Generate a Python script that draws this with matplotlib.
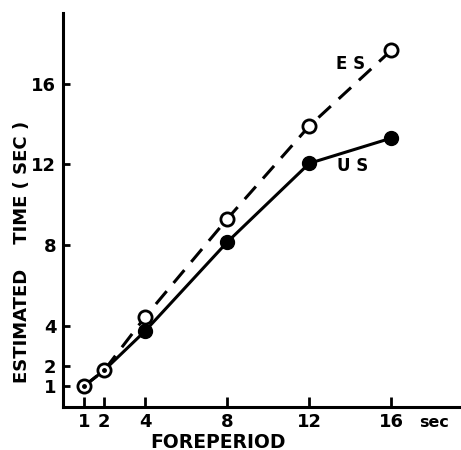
import numpy as np
import matplotlib
matplotlib.use("Agg")
from matplotlib import pyplot as plt

plt.rcParams['font.family'] = ['DejaVu Sans']
plt.rcParams['font.weight'] = 'bold'

foreperiod = [1, 2, 4, 8, 12, 16]
es_values = [1.0, 1.8, 4.45, 9.3, 13.9, 17.65]
us_values = [1.0, 1.8, 3.75, 8.15, 12.05, 13.3]
xticks = [1, 2, 4, 8, 12, 16]
yticks = [1, 2, 4, 8, 12, 16]

fig = plt.figure(figsize=(4.61, 4.5), dpi=100)
ax = fig.add_axes([63.3 / 461, 1 - 406.5 / 450, (461 - 63.3) / 461, (406.5 - 13) / 450])

fp = np.array(foreperiod)
es = np.array(es_values)
us = np.array(us_values)
shared = np.isclose(es, us)

# US: solid line, filled dots where it differs from ES
ax.plot(fp, us, color='black', lw=2.2, zorder=2)
ax.plot(fp[~shared], us[~shared], 'o', color='black', ms=10, zorder=3)
# ES: dashed line, open circles
ax.plot(fp, es, color='black', lw=2.2, dashes=(5.5, 3.5), zorder=2)
ax.plot(fp, es, 'o', mfc='white', mec='black', mew=2, ms=9.5, zorder=4)
ax.plot(fp[shared], es[shared], 'o', color='black', ms=2.5, zorder=5)

ax.text(14.0, 16.95, 'E S', fontsize=12, fontweight='bold', ha='center', va='center')
ax.text(14.1, 11.9, 'U S', fontsize=12, fontweight='bold', ha='center', va='center')

ax.set_xlim(0, 19.4)
ax.set_ylim(0, 19.5)
ax.set_xticks(xticks)
ax.set_yticks(yticks)
ax.set_xticklabels([str(t) for t in xticks], fontsize=13, fontweight='bold')
ax.set_yticklabels([str(t) for t in yticks], fontsize=13, fontweight='bold')
ax.tick_params(axis='x', direction='in', length=7, width=2, pad=5)
ax.tick_params(axis='y', direction='in', length=5, width=2, pad=5)

for s in ['top', 'right']:
    ax.spines[s].set_visible(False)
for s in ['left', 'bottom']:
    ax.spines[s].set_linewidth(2.2)

ax.text(18.1, -0.78, 'sec', fontsize=11.5, fontweight='bold', ha='center', va='center',
        transform=ax.transData, clip_on=False)
fig.text(218 / 461, 1 - 442 / 450, 'FOREPERIOD', fontsize=13.5, fontweight='bold',
         ha='center', va='center')
fig.text(22 / 461, 1 - 252 / 450, 'ESTIMATED    TIME ( SEC )', fontsize=13,
         fontweight='bold', rotation=90, ha='center', va='center')

fig.savefig('out.png', dpi=100)
